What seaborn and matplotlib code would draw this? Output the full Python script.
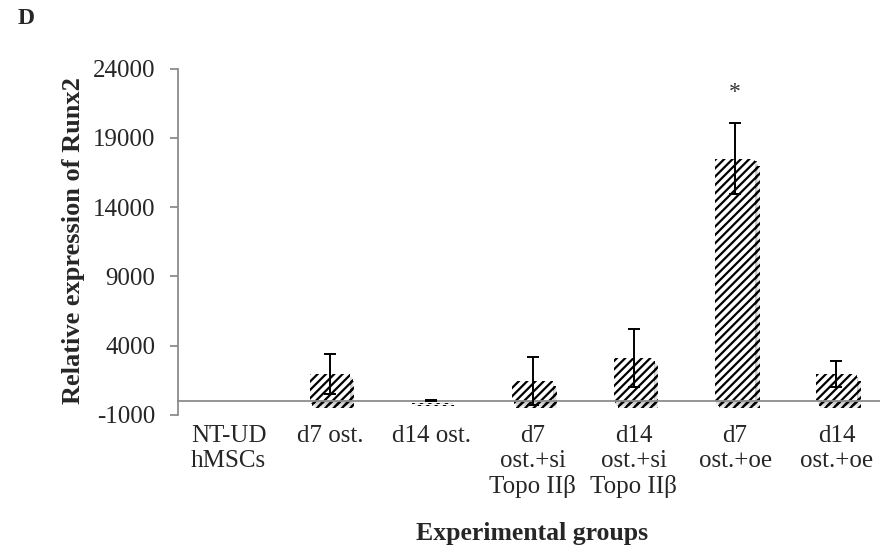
import matplotlib
matplotlib.use("Agg")
import matplotlib.pyplot as plt
import matplotlib.patheffects as pe
import seaborn as sns
import pandas as pd
import numpy as np

categories = ["NT-UD\nhMSCs", "d7 ost.", "d14 ost.", "d7\nost.+si\nTopo IIβ",
              "d14\nost.+si\nTopo IIβ", "d7\nost.+oe", "d14\nost.+oe"]
values = [1, 1950, 25, 1450, 3080, 17500, 1950]
errors = [0, 1440, 20, 1720, 2100, 2550, 950]
yticks = [-1000, 4000, 9000, 14000, 19000, 24000]
star_label = "*"
star_index = 5

sns.set_theme(style="white")
plt.rcParams["font.family"] = ["Liberation Serif", "DejaVu Serif"]
plt.rcParams["hatch.linewidth"] = 1.6

fig = plt.figure(figsize=(8.8, 5.57), dpi=100)
ax = fig.add_axes([0.2023, 0.2553, 0.8057, 0.6214])

df = pd.DataFrame({"group": categories, "value": values})
sns.barplot(data=df, x="group", y="value", ax=ax, color="white", width=0.4,
            errorbar=None, edgecolor="black", linewidth=0, hatch="////")

for p in ax.patches:
    p.set_path_effects([
        pe.SimplePatchShadow(offset=(3, -5), shadow_rgbFace="gray", alpha=0.12),
        pe.SimplePatchShadow(offset=(2, -3.5), shadow_rgbFace="gray", alpha=0.15),
        pe.SimplePatchShadow(offset=(1, -2), shadow_rgbFace="gray", alpha=0.2),
        pe.Normal()])

xs = np.arange(len(categories))
vals = np.array(values, dtype=float)
errs = np.array(errors, dtype=float)
m = errs > 0
ax.errorbar(xs[m], vals[m], yerr=errs[m], fmt="none", ecolor="black",
            elinewidth=1.4, capsize=4, capthick=1.4, zorder=5)

ax.text(star_index, vals[star_index] + errs[star_index] + 2250, star_label,
        ha="center", va="center", fontsize=17, color="#333333")

ax.set_ylim(-1000, 24000)
ax.set_xlim(-0.5, len(categories) - 0.5)
ax.set_yticks(yticks)
ax.set_yticklabels([str(t) for t in yticks], fontsize=18)

ax.spines["bottom"].set_position(("data", 0))
ax.spines["top"].set_visible(False)
ax.spines["right"].set_visible(False)
for s in ["left", "bottom"]:
    ax.spines[s].set_color("#8c8c8c")
    ax.spines[s].set_linewidth(1.3)

ax.set_xticks(xs)
ax.set_xticklabels(categories, fontsize=18, linespacing=1.15)
ax.set_xticks(np.arange(-0.5, len(categories), 1.0), minor=True)
ax.tick_params(axis="x", which="major", length=0, pad=17.5)
ax.tick_params(axis="x", which="minor", length=6, width=1.3, color="#8c8c8c", direction="out")
ax.tick_params(axis="y", which="major", length=5.5, width=1.3, color="#8c8c8c", direction="out", pad=11, left=True)

ax.set_xlabel("Experimental groups", fontsize=18.5, fontweight="bold")
ax.xaxis.set_label_coords(0.5, -0.31)
ax.set_ylabel("Relative expression of Runx2", fontsize=19, fontweight="bold")
ax.yaxis.set_label_coords(-0.131, 0.502)

fig.text(18 / 880, 1 - 18 / 557, "D", fontsize=17, fontweight="bold", va="center", ha="left")

fig.savefig("out.png", dpi=100)
